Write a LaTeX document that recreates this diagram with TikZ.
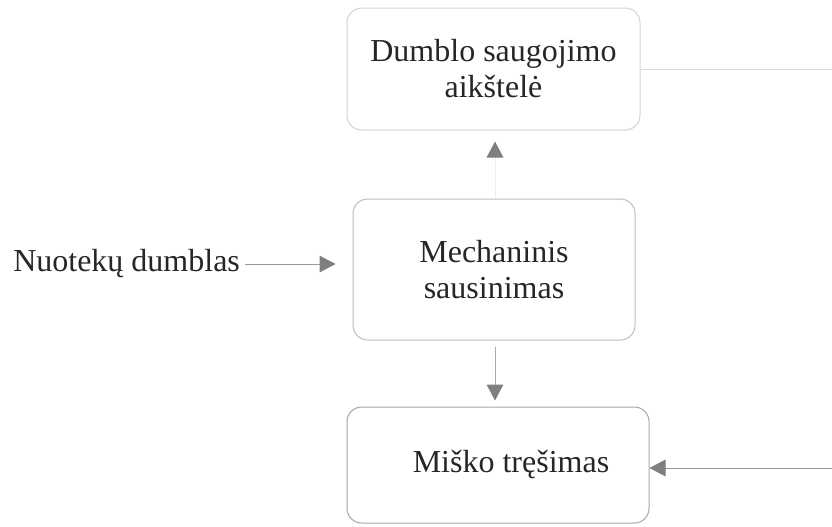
\documentclass[tikz,border=0pt]{standalone}
\usepackage{fontspec}
\setmainfont{Liberation Serif}
\usetikzlibrary{arrows.meta}
\definecolor{txt}{HTML}{262626}
\definecolor{edgeA}{HTML}{D2D2D2}
\definecolor{edgeB}{HTML}{BDBDBD}
\definecolor{edgeC}{HTML}{A6A6A6}
\definecolor{tipc}{HTML}{7F7F7F}
\definecolor{faint}{HTML}{EDEDED}
\definecolor{loopline}{HTML}{D9D9D9}
\definecolor{midline}{HTML}{ABABAB}
\definecolor{darkline}{HTML}{999999}
\tikzset{
  stage/.style={draw, rounded corners=11pt, line width=0.75pt, align=center,
    text=txt, font=\fontsize{24pt}{27pt}\selectfont, inner sep=0pt},
  plain/.style={text=txt, font=\fontsize{24pt}{27pt}\selectfont, inner sep=0pt},
  flow/.style={line width=0.75pt, -{Triangle[length=12pt, width=12.5pt, color=tipc]}},
}
\begin{document}
\begin{tikzpicture}[x=0.75pt, y=-0.75pt]
  \useasboundingbox (0,0) rectangle (832,526);
  % process stages
  \node[stage, draw=edgeA, minimum width=219.75pt, minimum height=91.5pt]
    (store) at (493.5,69) {Dumblo saugojimo\\aikštelė};
  \node[stage, draw=edgeB, minimum width=211.5pt, minimum height=105.75pt]
    (dry) at (494,269.5) {Mechaninis\\sausinimas};
  \node[stage, draw=edgeC, minimum width=226.5pt, minimum height=87pt,
    label={[plain, xshift=9.75pt]center:Miško tręšimas}]
    (forest) at (498,465) {};
  % incoming sludge
  \node[plain, anchor=west] (sludge) at (13,264) {Nuotekų dumblas};
  % off-picture ends of the return loop
  \coordinate (loopTop) at (832,69);
  \coordinate (loopBot) at (832,468);
  % connectors
  \draw[flow, draw=darkline, shorten <=3.75pt, shorten >=12.75pt]
    (sludge.east) -- (sludge.east -| dry.west);
  \draw[flow, draw=faint, shorten >=8.25pt]
    ([xshift=0.75pt]dry.north) -- ([xshift=0.75pt]dry.north |- store.south);
  \draw[flow, draw=midline, shorten <=4.5pt, shorten >=4.5pt]
    ([xshift=0.75pt]dry.south) -- ([xshift=0.75pt]dry.south |- forest.north);
  \draw[line width=0.75pt, draw=loopline] (store.east) -- (store.east -| loopTop);
  \draw[flow, draw=darkline] (loopBot) -- (loopBot -| forest.east);
\end{tikzpicture}
\end{document}
